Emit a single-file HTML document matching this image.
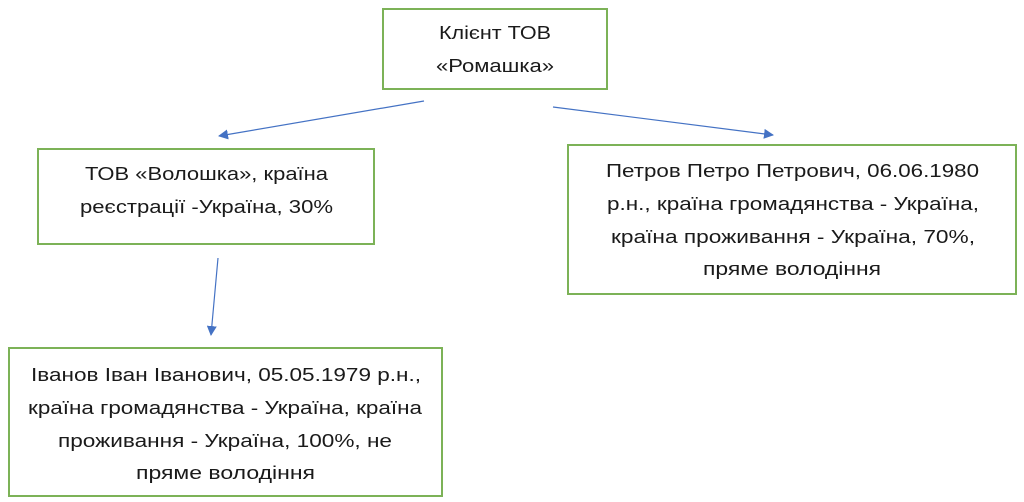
<!DOCTYPE html>
<html><head><meta charset="utf-8"><style>
html,body{margin:0;padding:0;background:#fff;}
svg{display:block}
text{font-family:"Liberation Sans","DejaVu Sans",sans-serif;font-size:18px;fill:#1a1a1a}
</style></head><body>
<svg width="1024" height="502" viewBox="0 0 1024 502">
<defs><marker id="a" markerWidth="10" markerHeight="10" refX="9" refY="5" orient="auto" markerUnits="userSpaceOnUse"><path d="M0,0 L10,5 L0,10 z" fill="#4472c4"/></marker></defs>
<g fill="none" stroke="#7cb257" stroke-width="2">
<rect x="383" y="9" width="224" height="80"/>
<rect x="38" y="149" width="336" height="95"/>
<rect x="568" y="145" width="448" height="149"/>
<rect x="9" y="348" width="433" height="148"/>
</g>
<g stroke="#4472c4" stroke-width="1.2" fill="none">
<line x1="424" y1="101" x2="219" y2="136" marker-end="url(#a)"/>
<line x1="553" y1="107" x2="773" y2="135" marker-end="url(#a)"/>
<line x1="218" y1="258" x2="211" y2="335" marker-end="url(#a)"/>
</g>
<text x="439" y="39" textLength="112" lengthAdjust="spacingAndGlyphs">Клієнт ТОВ</text>
<text x="436" y="72" textLength="118" lengthAdjust="spacingAndGlyphs">«Ромашка»</text>
<text x="85" y="180" textLength="243" lengthAdjust="spacingAndGlyphs">ТОВ «Волошка», країна</text>
<text x="80" y="213" textLength="253" lengthAdjust="spacingAndGlyphs">реєстрації -Україна, 30%</text>
<text x="606" y="177" textLength="373" lengthAdjust="spacingAndGlyphs">Петров Петро Петрович, 06.06.1980</text>
<text x="607" y="210" textLength="372" lengthAdjust="spacingAndGlyphs">р.н., країна громадянства - Україна,</text>
<text x="611" y="243" textLength="364" lengthAdjust="spacingAndGlyphs">країна проживання - Україна, 70%,</text>
<text x="703" y="275" textLength="178" lengthAdjust="spacingAndGlyphs">пряме володіння</text>
<text x="31" y="381" textLength="390" lengthAdjust="spacingAndGlyphs">Іванов Іван Іванович, 05.05.1979 р.н.,</text>
<text x="28" y="414" textLength="394" lengthAdjust="spacingAndGlyphs">країна громадянства - Україна, країна</text>
<text x="58" y="447" textLength="334" lengthAdjust="spacingAndGlyphs">проживання - Україна, 100%, не</text>
<text x="136" y="479" textLength="179" lengthAdjust="spacingAndGlyphs">пряме володіння</text>
</svg>
</body></html>
